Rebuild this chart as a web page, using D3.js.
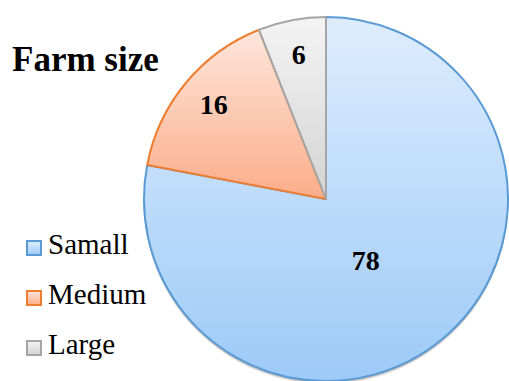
<!DOCTYPE html>
<html>
<head>
<meta charset="utf-8">
<script src="https://cdn.jsdelivr.net/npm/d3@7"></script>
</head>
<body style="margin:0">
<div id="chart" style="position:relative;width:509px;height:381px;"></div>
<script>
// Farm size distribution (%)
const categories = ["Samall", "Medium", "Large"];
const values = [78, 16, 6];
const strokeColors = ["#5b9bd5", "#ed7d31", "#a5a5a5"];
const gradTop = ["#deedfd", "#fde6dc", "#f4f4f4"];
const gradBottom = ["#9dcaf8", "#fbad89", "#d3d3d3"];
const title = "Farm size";

const W = 509, H = 381;
const cx = 326, cy = 199, r = 182;
const FONT = '"Liberation Serif"';

const root = d3.select("#chart");

const svg = root.append("svg")
  .attr("width", W).attr("height", H)
  .style("position", "absolute").style("left", "0px").style("top", "0px");

const defs = svg.append("defs");
categories.forEach((c, i) => {
  const g = defs.append("linearGradient")
    .attr("id", "grad" + i)
    .attr("x1", 0).attr("y1", 0).attr("x2", 0).attr("y2", 1);
  g.append("stop").attr("offset", "0%").attr("stop-color", gradTop[i]);
  g.append("stop").attr("offset", "100%").attr("stop-color", gradBottom[i]);
});

const pie = d3.pie().sort(null).value(d => d);
const arcs = pie(values);
const arc = d3.arc().innerRadius(0).outerRadius(r);

const g = svg.append("g").attr("transform", `translate(${cx},${cy})`);

// soft shadow under the lower rim
[[3, 0.08], [2, 0.12], [1, 0.18]].forEach(([off, op]) => {
  g.append("path")
    .attr("d", d3.arc().innerRadius(0).outerRadius(r + 0.5)({ startAngle: 0, endAngle: 2 * Math.PI }))
    .attr("transform", `translate(0,${off})`)
    .attr("fill", "#000")
    .attr("opacity", op);
});

g.append("g")
  .selectAll("path")
  .data(arcs)
  .join("path")
  .attr("d", arc)
  .attr("fill", (d, i) => `url(#grad${i})`)
  .attr("stroke", (d, i) => strokeColors[i])
  .attr("stroke-width", 2)
  .attr("stroke-linejoin", "round");

// legend swatches
const swatch = svg.append("g").attr("transform", "translate(27,241)");
swatch.selectAll("rect")
  .data(categories)
  .join("rect")
  .attr("x", 0).attr("y", (d, i) => i * 50)
  .attr("width", 14).attr("height", 14)
  .attr("fill", (d, i) => `url(#grad${i})`)
  .attr("stroke", (d, i) => strokeColors[i])
  .attr("stroke-width", 2);

// text layer: HTML labels placed over the drawing, baseline at the given y
const place = (sel, x, y, size, weight, anchor) => sel
  .style("position", "absolute")
  .style("left", x + "px")
  .style("top", (y - size * 0.891) + "px")
  .style("font-family", FONT)
  .style("font-size", size + "px")
  .style("font-weight", weight)
  .style("line-height", "1")
  .style("white-space", "nowrap")
  .style("color", "#000")
  .style("transform", anchor === "middle" ? "translateX(-50%)" : null);

// value labels: large slice nearer the centre, small slices toward the rim
const labelPos = d => {
  const span = d.endAngle - d.startAngle;
  const rr = span > Math.PI ? r * 0.41 : r * 0.8;
  const a = span > Math.PI ? (d.startAngle + d.endAngle) / 2 + 0.13 : (d.startAngle + d.endAngle) / 2;
  return [cx + Math.sin(a) * rr, cy - Math.cos(a) * rr + 10];
};
root.selectAll("div.val")
  .data(arcs)
  .join("div")
  .attr("class", "val")
  .each(function (d) {
    const [x, y] = labelPos(d);
    place(d3.select(this), x, y, 28, "bold", "middle");
  })
  .text(d => d.data);

place(root.append("div"), 12, 73, 35, "bold", "start").text(title);

root.selectAll("div.leg")
  .data(categories)
  .join("div")
  .attr("class", "leg")
  .each(function (d, i) {
    place(d3.select(this), 48, 256 + i * 50, 29, "normal", "start");
  })
  .text(d => d);
</script>
</body>
</html>
